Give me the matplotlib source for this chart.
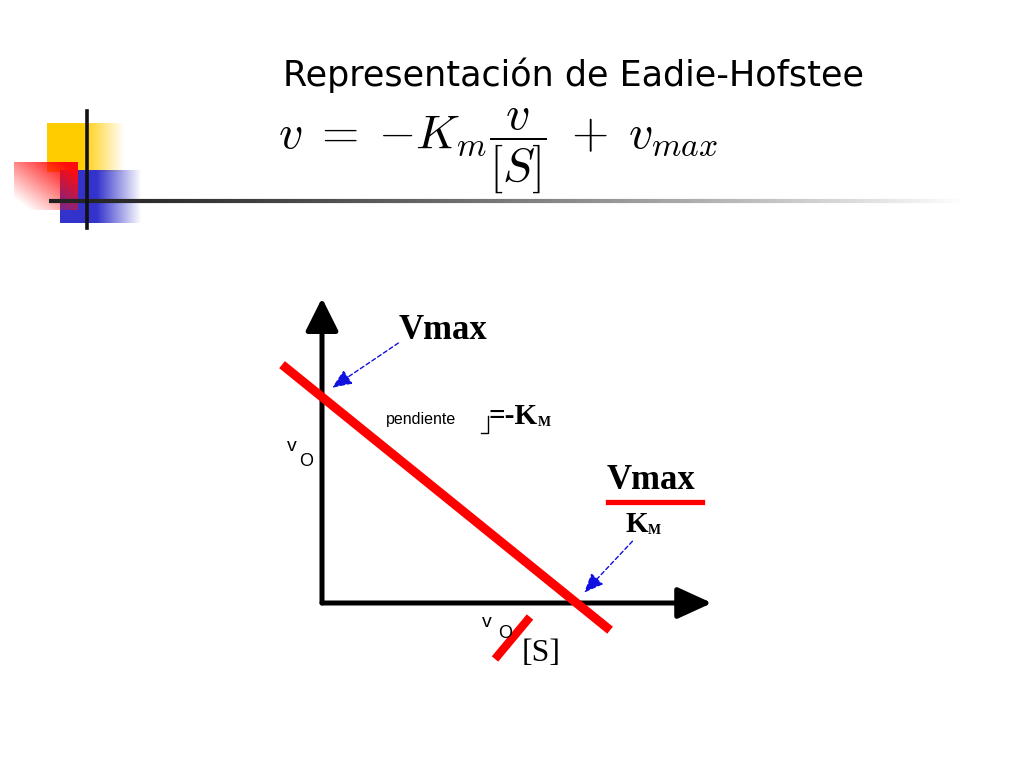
import numpy as np
import matplotlib
matplotlib.use("Agg")
import matplotlib.pyplot as plt
from matplotlib.collections import LineCollection

# Eadie-Hofstee: v = -Km * v/[S] + Vmax
vmax = 1.0
km = 1.0
v_over_s_range = [-0.157, 1.132]   # extent of the drawn red line (v/[S])
x_axis_end = 1.532
y_axis_end = 1.48

title = "Representación de Eadie-Hofstee"
formula = r"$v\;=\;{-}K_m\dfrac{v}{[S]}\;+\;v_{max}$"

W, H = 1024, 768
fig = plt.figure(figsize=(W / 100, H / 100), dpi=100)
fig.patch.set_facecolor("white")

# background axes in pixel coordinates (slide decoration + labels)
bg = fig.add_axes([0, 0, 1, 1])
bg.set_xlim(0, W)
bg.set_ylim(H, 0)
bg.axis("off")


def grad_box(x0, x1, y0, y1, rgb, kind):
    n = 64
    u = np.linspace(0, 1, n)
    img = np.ones((n, n, 4))
    img[..., :3] = rgb
    if kind == "fade_right":
        a = np.clip((1 - u) / 0.55, 0, 1)
        img[..., 3] = a[None, :]
    else:  # strong at top right, white at bottom left
        a = np.clip(0.5 * (u[None, :] + (1 - u[:, None])) * 1.3 - 0.15, 0, 1)
        img[..., 3] = a
    bg.imshow(img, extent=(x0, x1, y1, y0), aspect="auto", zorder=1,
              interpolation="bilinear")


grad_box(47, 125, 123, 172, (1.0, 0.8, 0.0), "fade_right")
grad_box(60, 142, 170, 223, (0.2, 0.2, 0.8), "fade_right")
grad_box(14, 78, 162, 210, (1.0, 0.05, 0.05), "diag")
bg.set_xlim(0, W)
bg.set_ylim(H, 0)

# gradient rule under the title
xs = np.linspace(49, 965, 200)
segs = [[(xs[i], 201), (xs[i + 1], 201)] for i in range(len(xs) - 1)]
g = np.clip(0.13 + 0.87 * ((xs[:-1] - 49) / 916) ** 1.3, 0, 1)
bg.add_collection(LineCollection(segs, colors=[(c, c, c) for c in g],
                                 linewidths=3, zorder=2))
bg.plot([87, 87], [111, 228], color="#111111", lw=2.6, zorder=3)

bg.text(283, 86, title, fontsize=25.2, family="DejaVu Sans",
        ha="left", va="baseline", color="black")
plt.rcParams["mathtext.fontset"] = "cm"
bg.text(278, 151, formula, fontsize=34.5, ha="left", va="center",
        color="black", zorder=4)

# diagram axes: origin at pixel (322, 603)
ux, uy = 254.5, 206.0
ax = fig.add_axes([0, 0, 1, 1])
ax.set_xlim(-322 / ux, (W - 322) / ux)
ax.set_ylim(-(H - 603) / uy, 603 / uy)
ax.axis("off")
ax.patch.set_alpha(0)

ax.annotate("", xy=(0, y_axis_end), xytext=(0, 0),
            arrowprops=dict(arrowstyle="-|>,head_length=1.0,head_width=0.5",
                            mutation_scale=20, lw=3.6, color="black",
                            shrinkA=0, shrinkB=0))
ax.annotate("", xy=(x_axis_end, 0), xytext=(0, 0),
            arrowprops=dict(arrowstyle="-|>,head_length=1.05,head_width=0.48",
                            mutation_scale=20, lw=3.6, color="black",
                            shrinkA=0, shrinkB=0))

xl = np.array(v_over_s_range)
ax.plot(xl, vmax - km * xl, color="#ff0000", lw=6.5, solid_capstyle="butt",
        zorder=5)

x_int = vmax / km
ax.annotate("", xy=(0.04, vmax + 0.045), xytext=(0.3, vmax + 0.262),
            arrowprops=dict(arrowstyle="-|>,head_length=0.6,head_width=0.25",
                            mutation_scale=20, lw=1.0, ls=(0, (3, 2)),
                            color="#1010e0", shrinkA=0, shrinkB=0))
ax.annotate("", xy=(x_int + 0.03, 0.05), xytext=(x_int + 0.22, 0.3),
            arrowprops=dict(arrowstyle="-|>,head_length=0.6,head_width=0.25",
                            mutation_scale=20, lw=1.0, ls=(0, (3, 2)),
                            color="#1010e0", shrinkA=0, shrinkB=0))

serif = "Liberation Serif"
bg.text(399, 339, "Vmax", fontsize=25, family=serif, weight="bold",
        ha="left", va="baseline")
bg.text(386, 424, "pendiente", fontsize=11.5, family="Liberation Sans",
        ha="left", va="baseline")
bg.plot([481, 488, 488], [433, 433, 416], color="black", lw=1)
bg.text(489, 424, "=-K", fontsize=21, family=serif, weight="bold",
        ha="left", va="baseline")
bg.text(538, 426, "M", fontsize=10, family=serif, weight="bold",
        ha="left", va="baseline")

bg.text(287, 451, "v", fontsize=14, family="Liberation Sans",
        ha="left", va="baseline")
bg.text(299, 466, "O", fontsize=13, family="Liberation Sans",
        ha="left", va="baseline")

bg.text(607, 489, "Vmax", fontsize=25, family=serif, weight="bold",
        ha="left", va="baseline")
bg.plot([608, 702], [502, 502], color="#ff0000", lw=3.8)
bg.text(626, 532, "K", fontsize=21, family=serif, weight="bold",
        ha="left", va="baseline")
bg.text(648, 534, "M", fontsize=10, family=serif, weight="bold",
        ha="left", va="baseline")

bg.text(482, 627, "v", fontsize=14, family="Liberation Sans",
        ha="left", va="baseline")
bg.text(498, 638, "O", fontsize=13, family="Liberation Sans",
        ha="left", va="baseline")
bg.plot([495, 530], [659, 617], color="#ff0000", lw=6, solid_capstyle="butt")
bg.text(522, 661, "[S]", fontsize=23, family=serif, ha="left",
        va="baseline")

fig.savefig("out.png", dpi=100, facecolor="white")
